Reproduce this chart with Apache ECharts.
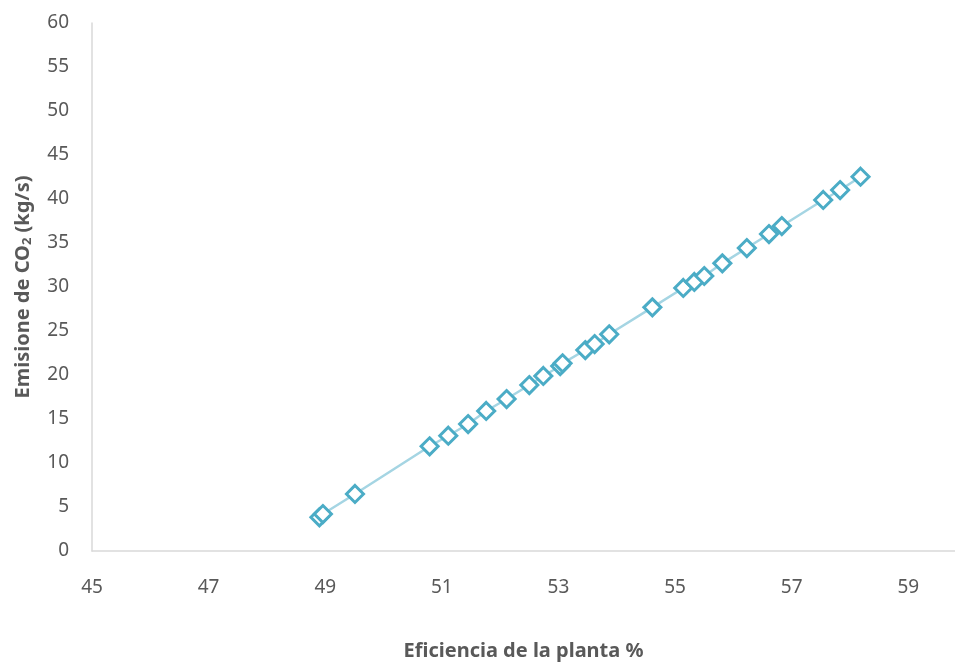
<!DOCTYPE html>
<html>
<head>
<meta charset="utf-8">
<script src="https://cdn.jsdelivr.net/npm/echarts@6/dist/echarts.min.js"></script>
<style>html,body{margin:0;padding:0;background:#fff}#c{width:955px;height:664px}</style>
</head>
<body>
<div id="c"></div>
<script>
var efficiency = [48.90, 48.96, 49.51, 50.79, 51.11, 51.45, 51.76, 52.11, 52.50, 52.74, 53.03, 53.07, 53.46, 53.62, 53.87, 54.61, 55.14, 55.33, 55.50, 55.81, 56.23, 56.61, 56.83, 57.54, 57.83, 58.18];
var emissions = [3.83, 4.20, 6.48, 11.90, 13.10, 14.43, 15.91, 17.27, 18.86, 19.89, 21.02, 21.33, 22.84, 23.52, 24.63, 27.69, 29.89, 30.57, 31.25, 32.69, 34.43, 36.02, 36.93, 39.89, 41.02, 42.53];
var xAxisTitle = 'Eficiencia de la planta %';
var yAxisTitle = 'Emisione de CO';

var data = efficiency.map(function (x, i) { return [x, emissions[i]]; });
var font = 'Noto Sans';
var chart = echarts.init(document.getElementById('c'), null, {renderer: 'canvas'});
chart.setOption({
  animation: false,
  grid: {left: 92, right: 0, top: 23, bottom: 113, containLabel: false, outerBoundsMode: 'none'},
  xAxis: {
    type: 'value', min: 45, max: 59.8, interval: 2,
    axisLine: {show: true, lineStyle: {color: '#d9d9d9', width: 1.5}},
    axisTick: {show: false},
    splitLine: {show: false},
    axisLabel: {color: '#595959', fontSize: 19, fontFamily: font, margin: 27, showMaxLabel: false},
    name: xAxisTitle, nameLocation: 'middle', nameGap: 90,
    nameTextStyle: {color: '#595959', fontSize: 20, fontWeight: 'bold', fontFamily: font}
  },
  yAxis: {
    type: 'value', min: 0, max: 60, interval: 5,
    axisLine: {show: true, lineStyle: {color: '#d9d9d9', width: 1.5}},
    axisTick: {show: false},
    splitLine: {show: false},
    axisLabel: {color: '#595959', fontSize: 19, fontFamily: font, margin: 23},
    name: '{a|' + yAxisTitle + '}{s|2}{a| (kg/s)}', nameLocation: 'middle', nameGap: 58, nameRotate: 90,
    nameTextStyle: {
      rich: {
        a: {color: '#595959', fontSize: 20, fontWeight: 'bold', fontFamily: font},
        s: {color: '#595959', fontSize: 13, fontWeight: 'bold', fontFamily: font, verticalAlign: 'bottom', padding: [9, 0, 0, 0]}
      }
    }
  },
  series: [{
    type: 'line', data: data,
    symbol: 'diamond', symbolSize: 17,
    lineStyle: {color: '#a5d5e3', width: 2.5},
    itemStyle: {color: '#ffffff', borderColor: '#4bacc6', borderWidth: 3}
  }]
});
</script>
</body>
</html>
